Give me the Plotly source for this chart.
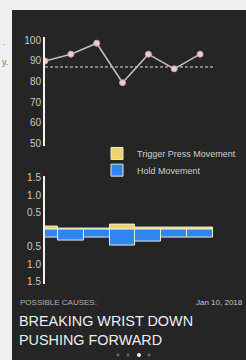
import plotly.graph_objects as go

# ---- data ----
sessions = [0, 1, 2, 3, 4, 5, 6]
accuracy = [90, 93.3, 98.6, 79.5, 93.3, 86.2, 93.3]
average_line = [87.1, 87.1]
average_x = [0, 6.5]
trigger_press = [0.08, 0.04, 0.03, 0.16, 0.07, 0.07, 0.07]
hold_movement = [-0.24, -0.33, -0.24, -0.47, -0.36, -0.23, -0.23]
top_ticks = [50, 60, 70, 80, 90, 100]
bottom_tickvals = [-1.5, -1.0, -0.5, 0.5, 1.0, 1.5]
bottom_ticktext = ["1.5", "1.0", "0.5", "0.5", "1.0", "1.5"]

W, H = 246, 360
def px_x(p): return p / W
def px_y(p): return 1 - p / H

PANEL = "rgb(37,37,37)"
FONT = "Liberation Sans, Arial, sans-serif"

fig = go.Figure()

fig.add_trace(go.Scatter(
    x=average_x, y=average_line, mode="lines",
    line=dict(color="rgba(235,235,235,0.95)", width=1, dash="3px,2px"),
    showlegend=False, hoverinfo="skip", xaxis="x", yaxis="y"))
fig.add_trace(go.Scatter(
    x=sessions, y=accuracy, mode="lines+markers",
    line=dict(color="#c9bdbf", width=1.6),
    marker=dict(size=6, color="#ecccd2", line=dict(color="#c7a3aa", width=1)),
    showlegend=False, xaxis="x", yaxis="y"))

fig.add_trace(go.Bar(
    x=sessions, y=trigger_press, name="Trigger Press Movement",
    marker=dict(color="#f0d46a", line=dict(color="#f3ecc4", width=1)),
    width=1, xaxis="x2", yaxis="y2", legend="legend"))
fig.add_trace(go.Bar(
    x=sessions, y=hold_movement, name="Hold Movement",
    marker=dict(color="#3185f0", line=dict(color="#e6ecd0", width=1)),
    width=1, xaxis="x2", yaxis="y2", legend="legend2"))

xdom = [px_x(45), px_x(213)]
legend_style = dict(xanchor="left", yanchor="middle", bgcolor="rgba(0,0,0,0)",
                    font=dict(size=9, color="#cfcfcf"))
fig.update_layout(
    width=W, height=H,
    margin=dict(l=0, r=0, t=0, b=0),
    paper_bgcolor="#eef0f2",
    plot_bgcolor="rgba(0,0,0,0)",
    barmode="relative", bargap=0,
    font=dict(family=FONT, color="#c8c8c8", size=9),
    xaxis=dict(domain=xdom, range=[0, 6.5], visible=False),
    yaxis=dict(domain=[px_y(145.1), px_y(34.8)], range=[49, 101.5],
               tickvals=top_ticks, showgrid=False, zeroline=False,
               showline=True, linecolor="#f2f2f2", linewidth=2,
               ticks="", tickfont=dict(size=10, color="#c8c8c8")),
    xaxis2=dict(domain=xdom, range=[0, 6.5], visible=False, anchor="y2"),
    yaxis2=dict(domain=[px_y(285.5), px_y(175.5)], range=[-1.57, 1.57],
                anchor="x2",
                tickvals=bottom_tickvals, ticktext=bottom_ticktext,
                showgrid=False, zeroline=False,
                showline=True, linecolor="#f2f2f2", linewidth=2,
                ticks="", tickfont=dict(size=10, color="#c8c8c8")),
    legend=dict(x=px_x(97), y=px_y(153), **legend_style),
    legend2=dict(x=px_x(97), y=px_y(170), **legend_style),
    shapes=[
        dict(type="rect", xref="paper", yref="paper",
             x0=px_x(12), x1=1.01, y0=-0.01, y1=px_y(7),
             fillcolor=PANEL, line=dict(width=0), layer="below"),
        dict(type="circle", xref="paper", yref="paper",
             x0=px_x(116.5), x1=px_x(119.5), y0=px_y(359.5), y1=px_y(356.5),
             fillcolor="#6a6a6a", line=dict(width=0)),
        dict(type="circle", xref="paper", yref="paper",
             x0=px_x(126.5), x1=px_x(129.5), y0=px_y(359.5), y1=px_y(356.5),
             fillcolor="#6a6a6a", line=dict(width=0)),
        dict(type="circle", xref="paper", yref="paper",
             x0=px_x(137), x1=px_x(141), y0=px_y(360), y1=px_y(356),
             fillcolor="#f0f0f0", line=dict(width=0)),
        dict(type="circle", xref="paper", yref="paper",
             x0=px_x(147.5), x1=px_x(150.5), y0=px_y(359.5), y1=px_y(356.5),
             fillcolor="#6a6a6a", line=dict(width=0)),
    ],
    annotations=[
        dict(text="POSSIBLE CAUSES:", x=px_x(18), y=px_y(305), xref="paper", yref="paper",
             xanchor="left", yanchor="middle", showarrow=False,
             font=dict(size=8, color="#b0b0b0")),
        dict(text="Jan 10, 2018", x=px_x(245), y=px_y(305), xref="paper", yref="paper",
             xanchor="right", yanchor="middle", showarrow=False,
             font=dict(size=8, color="#c8c8c8")),
        dict(text="BREAKING WRIST DOWN", x=px_x(17), y=px_y(323.5), xref="paper", yref="paper",
             xanchor="left", yanchor="middle", showarrow=False,
             font=dict(size=14.4, color="#eeeeee")),
        dict(text="PUSHING FORWARD", x=px_x(17), y=px_y(342.5), xref="paper", yref="paper",
             xanchor="left", yanchor="middle", showarrow=False,
             font=dict(size=14.4, color="#eeeeee")),
        dict(text="y.", x=px_x(10), y=px_y(60), xref="paper", yref="paper",
             xanchor="right", yanchor="middle", showarrow=False,
             font=dict(size=9, color="#777777")),
        dict(text=".", x=px_x(8), y=px_y(40), xref="paper", yref="paper",
             xanchor="right", yanchor="middle", showarrow=False,
             font=dict(size=9, color="#777777")),
    ],
)

fig.write_html("out.html", config={"displayModeBar": False},
               post_script="document.body.style.margin='0';document.body.style.overflow='hidden';")
